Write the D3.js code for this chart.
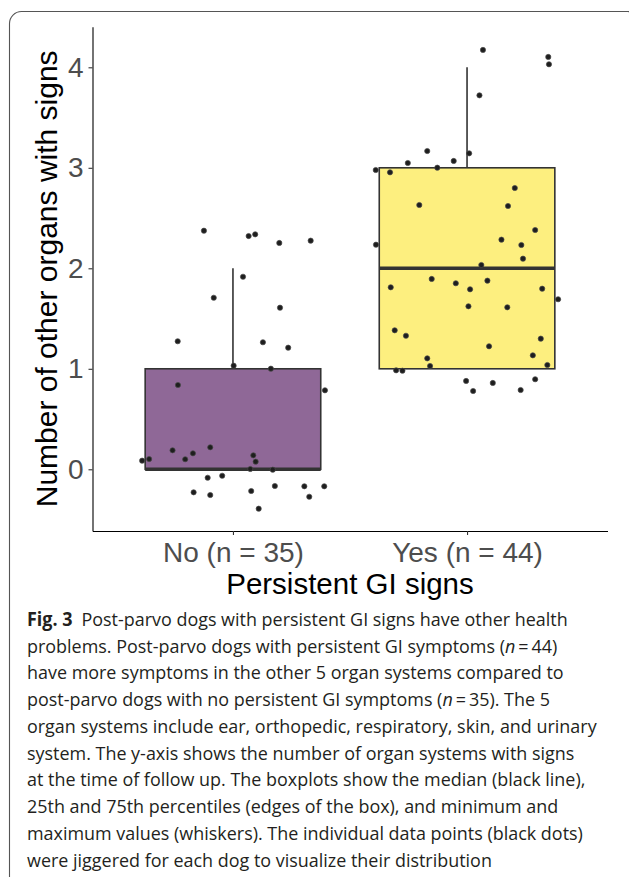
<!DOCTYPE html>
<html>
<head>
<meta charset="utf-8">
<script src="https://cdn.jsdelivr.net/npm/d3@7"></script>
<style>
html,body{margin:0;padding:0;background:#fff;}
svg{display:block;}
</style>
</head>
<body>
<svg id="chart" width="629" height="877"></svg>
<script>
// ---------- data ----------
const categories = ["No (n = 35)", "Yes (n = 44)"];
const yTicks = [0, 1, 2, 3, 4];
const boxQ1 = [0, 1];
const boxMedian = [0, 2];
const boxQ3 = [1, 3];
const whiskerLow = [0, 1];
const whiskerHigh = [2, 4];
const boxFill = ["#8F6897", "#FDEF7F"];
// jittered points (x offset from category centre, jittered y value)
const noJitterX = [-0.124,0.067,0.095,0.198,0.332,0.043,-0.082,0.201,-0.236,0.128,0.236,0.003,0.162,-0.235,0.393,-0.258,-0.097,-0.171,-0.388,-0.358,-0.204,0.087,0.097,0.074,0.170,-0.108,-0.046,0.179,0.305,0.390,-0.168,-0.097,0.078,0.326,0.110];
const noY = [2.374,2.321,2.338,2.252,2.275,1.916,1.707,1.608,1.274,1.264,1.210,1.031,1.001,0.839,0.786,0.189,0.219,0.159,0.086,0.102,0.100,0.139,0.076,0.003,-0.004,-0.084,-0.064,-0.166,-0.169,-0.169,-0.229,-0.256,-0.216,-0.273,-0.392];
const yesJitterX = [0.068,0.347,0.350,0.053,-0.170,0.009,-0.057,-0.253,-0.390,-0.329,-0.127,0.204,-0.204,0.175,0.291,-0.389,0.147,0.232,0.239,0.061,-0.151,-0.048,0.087,-0.326,0.013,0.321,0.389,0.006,0.172,-0.309,-0.261,0.315,0.094,0.281,-0.170,-0.158,0.343,-0.303,-0.276,-0.004,0.110,0.291,0.026,0.229];
const yesY = [4.173,4.103,4.030,3.721,3.167,3.144,3.068,3.048,2.978,2.955,3.001,2.799,2.630,2.620,2.381,2.235,2.285,2.232,2.096,2.033,1.894,1.851,1.877,1.811,1.791,1.797,1.692,1.622,1.612,1.383,1.329,1.300,1.224,1.134,1.104,1.028,1.038,0.985,0.981,0.879,0.859,0.896,0.779,0.789];
const xTitle = "Persistent GI signs";
const yTitle = "Number of other organs with signs";

// ---------- layout ----------
const svg = d3.select("#chart");
const pLeft = 92.5, pRight = 607.5, pTop = 26.7, pBottom = 531;
const x = d3.scaleLinear().domain([0.4, 2.6]).range([pLeft, pRight]);
const y = d3.scaleLinear().domain([-0.614, 4.404]).range([pBottom, pTop]);

// frame
svg.append("rect").attr("x", 9.5).attr("y", 11.5).attr("width", 630).attr("height", 900)
  .attr("rx", 12).attr("fill", "none").attr("stroke", "#555").attr("stroke-width", 1.1);

const g = svg.append("g");

// boxes
const boxW = 0.75;
categories.forEach((c, i) => {
  const cx = i + 1;
  if (whiskerHigh[i] > boxQ3[i]) {
    g.append("line").attr("x1", x(cx)).attr("x2", x(cx)).attr("y1", y(boxQ3[i])).attr("y2", y(whiskerHigh[i]))
      .attr("stroke", "#333").attr("stroke-width", 1.6);
  }
  if (whiskerLow[i] < boxQ1[i]) {
    g.append("line").attr("x1", x(cx)).attr("x2", x(cx)).attr("y1", y(boxQ1[i])).attr("y2", y(whiskerLow[i]))
      .attr("stroke", "#333").attr("stroke-width", 1.6);
  }
  g.append("rect").attr("x", x(cx - boxW / 2)).attr("width", x(cx + boxW / 2) - x(cx - boxW / 2))
    .attr("y", y(boxQ3[i])).attr("height", y(boxQ1[i]) - y(boxQ3[i]))
    .attr("fill", boxFill[i]).attr("stroke", "#333").attr("stroke-width", 1.6);
  g.append("line").attr("x1", x(cx - boxW / 2)).attr("x2", x(cx + boxW / 2))
    .attr("y1", y(boxMedian[i])).attr("y2", y(boxMedian[i]))
    .attr("stroke", "#333").attr("stroke-width", 3.6);
});

// points
const pts = [];
noY.forEach((v, j) => pts.push({cx: 1 + noJitterX[j], v}));
yesY.forEach((v, j) => pts.push({cx: 2 + yesJitterX[j], v}));
g.selectAll("circle.pt").data(pts).join("circle").attr("class", "pt")
  .attr("cx", d => x(d.cx)).attr("cy", d => y(d.v)).attr("r", 2.6)
  .attr("fill", "#1e1e1e").attr("stroke", "#4a4a4a").attr("stroke-width", 0.7);

// axes
const font = "'Liberation Sans', Arial, Helvetica, sans-serif";
const yAxis = svg.append("g").attr("transform", `translate(${pLeft},0)`)
  .call(d3.axisLeft(y).tickValues(yTicks).tickSize(4).tickSizeOuter(0).tickPadding(5).tickFormat(d3.format("d")));
const xAxis = svg.append("g").attr("transform", `translate(0,${pBottom})`)
  .call(d3.axisBottom(x).tickValues([1, 2]).tickSize(4).tickSizeOuter(0).tickPadding(7).tickFormat(d => categories[d - 1]));
[yAxis, xAxis].forEach(a => {
  a.select(".domain").attr("stroke", "#000").attr("stroke-width", 1.1);
  a.selectAll(".tick line").attr("stroke", "#333").attr("stroke-width", 1.1);
  a.selectAll(".tick text").attr("fill", "#4D4D4D").style("font-family", font).style("font-size", "28px");
});

svg.append("text").attr("x", (pLeft + pRight) / 2).attr("y", 594).attr("text-anchor", "middle")
  .style("font-family", font).style("font-size", "29.5px").attr("fill", "#000").text(xTitle);
svg.append("text").attr("transform", `translate(57,${(pTop + pBottom) / 2}) rotate(-90)`).attr("text-anchor", "middle")
  .style("font-family", font).style("font-size", "30px").attr("fill", "#000").text(yTitle);

// caption
const capLines = [
  [["b", "Fig. 3"], ["r", "\u2002Post-parvo dogs with persistent GI signs have other health"]],
  [["r", "problems. Post-parvo dogs with persistent GI symptoms ("], ["i", "n"], ["r", "\u2009=\u200944)"]],
  [["r", "have more symptoms in the other 5 organ systems compared to"]],
  [["r", "post-parvo dogs with no persistent GI symptoms ("], ["i", "n"], ["r", "\u2009=\u200935). The 5"]],
  [["r", "organ systems include ear, orthopedic, respiratory, skin, and urinary"]],
  [["r", "system. The y-axis shows the number of organ systems with signs"]],
  [["r", "at the time of follow up. The boxplots show the median (black line),"]],
  [["r", "25th and 75th percentiles (edges of the box), and minimum and"]],
  [["r", "maximum values (whiskers). The individual data points (black dots)"]],
  [["r", "were jiggered for each dog to visualize their distribution"]]
];
const cap = svg.append("g");
const capText = cap.selectAll("text").data(capLines).join("text")
  .attr("x", 0).attr("y", (d, i) => i * 26.75)
  .style("font-family", "'Open Sans', 'Noto Sans', sans-serif").style("font-size", "19px").attr("fill", "#231f20");
capText.each(function(parts) {
  const t = d3.select(this);
  parts.forEach(p => {
    t.append("tspan").text(p[1])
      .style("font-weight", p[0] === "b" ? "700" : "400")
      .style("font-style", p[0] === "i" ? "italic" : "normal");
  });
});
const refW = capText.nodes()[4].getComputedTextLength();
const sx = 570 / refW;
cap.attr("transform", `translate(27,626) scale(${sx},1)`);
</script>
</body>
</html>
